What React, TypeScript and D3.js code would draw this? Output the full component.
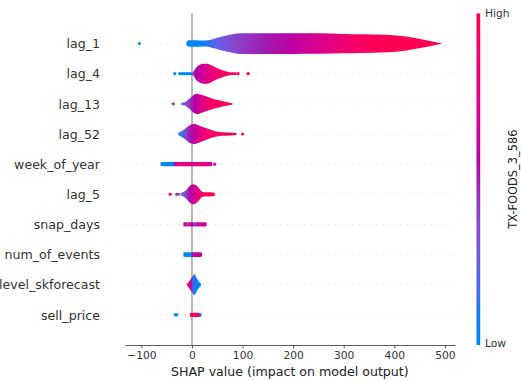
import { useRef, useEffect } from "react";
import * as d3 from "d3";

// features, top to bottom like in the plot
const featureNames = [
  "lag_1",
  "lag_4",
  "lag_13",
  "lag_52",
  "week_of_year",
  "lag_5",
  "snap_days",
  "num_of_events",
  "level_skforecast",
  "sell_price",
];

// violin outline per feature: [shap value, half width (row units), feature value 0..1]
const lag1Violin = [
  [-11, 0.05, 0], [-8, 0.1, 0], [0, 0.11, 0], [15, 0.105, 0.03], [26, 0.1, 0.1],
  [52, 0.2, 0.25], [75, 0.29, 0.33], [95, 0.345, 0.4], [150, 0.345, 0.5],
  [200, 0.345, 0.6], [250, 0.34, 0.72], [300, 0.32, 0.85], [335, 0.31, 0.93],
  [385, 0.29, 1], [424, 0.23, 1], [451, 0.15, 1], [475, 0.07, 1], [493, 0.01, 1],
];
const lag4Violin = [
  [0, 0.02, 0.35], [3, 0.08, 0.45], [8, 0.2, 0.55], [15, 0.29, 0.62], [22, 0.33, 0.67],
  [30, 0.33, 0.74], [38, 0.28, 0.8], [46, 0.21, 0.86], [55, 0.15, 0.9], [65, 0.09, 0.95],
  [75, 0.05, 0.95], [82, 0.02, 0.95],
];
const lag13Violin = [
  [-17, 0.02, 0.3], [-10, 0.1, 0.35], [-3, 0.2, 0.45], [4, 0.3, 0.55], [10, 0.335, 0.62],
  [18, 0.3, 0.72], [29, 0.24, 0.85], [42, 0.16, 0.92], [55, 0.11, 0.97], [65, 0.07, 1],
  [75, 0.04, 1], [80, 0.02, 1],
];
const lag52Violin = [
  [-27, 0.04, 0], [-20, 0.1, 0.15], [-12, 0.2, 0.35], [-4, 0.3, 0.5], [4, 0.335, 0.6],
  [12, 0.3, 0.7], [20, 0.24, 0.8], [29, 0.19, 0.88], [40, 0.12, 0.92], [49, 0.08, 0.95],
  [60, 0.06, 0.9], [75, 0.05, 0.95], [88, 0.03, 0.9],
];
const weekOfYearViolin = [
  [-62, 0.06, 0], [-45, 0.07, 0], [-38, 0.07, 0.05], [-33, 0.07, 0.6], [-25, 0.07, 0.9],
  [-15, 0.07, 0.75], [-5, 0.07, 0.85], [5, 0.07, 0.7], [15, 0.07, 0.9], [25, 0.07, 0.8],
  [35, 0.07, 0.75], [40, 0.06, 0.7],
];
const lag5Violin = [
  [-22, 0.03, 0.3], [-16, 0.08, 0.3], [-10, 0.17, 0.4], [-4, 0.28, 0.55], [2, 0.335, 0.65],
  [8, 0.3, 0.72], [14, 0.2, 0.8], [19, 0.1, 0.9], [24, 0.07, 0.95], [35, 0.07, 1],
  [45, 0.05, 1],
];
const snapDaysViolin = [
  [-17, 0.06, 0.7], [-12, 0.07, 0.8], [-8, 0.07, 0.3], [-4, 0.07, 0.75], [2, 0.07, 0.6],
  [6, 0.07, 0.2], [10, 0.07, 0.7], [16, 0.07, 0.8], [22, 0.07, 0.65], [29, 0.06, 0.7],
];
const numEventsViolin = [
  [-17, 0.07, 0], [-8, 0.08, 0], [-2, 0.08, 0.1], [2, 0.08, 0.55], [10, 0.08, 0.65],
  [16, 0.08, 0.65], [20, 0.06, 0.6],
];
const levelViolin = [
  [-10, 0.03, 1], [-6, 0.1, 0.85], [-2, 0.2, 0.55], [2, 0.3, 0.25], [4, 0.345, 0.1],
  [7, 0.3, 0.02], [10, 0.2, 0], [14, 0.1, 0], [18, 0.03, 0],
];
const sellPriceViolin = [
  [-4, 0.06, 1], [2, 0.07, 0.95], [8, 0.07, 1], [13, 0.07, 0.9], [16, 0.06, 0.1], [19, 0.05, 0],
];

// loose points outside the violins: [shap value, feature value]
const lag1Dots = [[-104, 0]];
const lag4Dots = [
  [-34, 0], [-24, 0], [-19, 0], [-15, 0], [-10, 0], [-6, 0], [-2, 0],
  [80, 0.95], [85, 0.9], [91, 1], [111, 1],
];
const lag13Dots = [[-37, 0.45], [-18, 0.3]];
const lag52Dots = [[100, 0.95]];
const weekOfYearDots = [[45, 0.7]];
const lag5Dots = [[-43, 1], [-30, 0.95], [-26, 0.15]];
const sellPriceDots = [[-33, 0], [-30, 0]];

const xTicks = [-100, 0, 100, 200, 300, 400, 500];

const violins = [
  lag1Violin, lag4Violin, lag13Violin, lag52Violin, weekOfYearViolin,
  lag5Violin, snapDaysViolin, numEventsViolin, levelViolin, sellPriceViolin,
];
const dots = [lag1Dots, lag4Dots, lag13Dots, lag52Dots, weekOfYearDots, lag5Dots, [], [], [], sellPriceDots];

// shap red_blue map, done in LCH like the python lib
const redBlue = (t: number) => {
  t = Math.max(0, Math.min(1, t));
  const l = t < 0.5 ? 54 - 28 * t : 40 + 28 * (t - 0.5);
  const c = 70 + 20 * t;
  const h = 267 + (380.3 - 267) * t;
  return d3.hcl(h, c, l).formatHex();
};

const App = () => {
  const svgRef = useRef<SVGSVGElement>(null);

  useEffect(() => {
    const width = 521;
    const height = 382;
    const left = 124.7;
    const right = 455;
    const top = 13.4;
    const bottom = 345;
    const font = "DejaVu Sans, sans-serif";

    const svg = d3.select(svgRef.current).attr("width", width).attr("height", height);
    svg.selectAll("*").remove();

    const x = d3.scaleLinear().domain([-133, 520]).range([left, right]);
    const y = d3.scaleLinear().domain([-1, featureNames.length]).range([bottom, top]);
    const rowH = y(0) - y(1);
    const rowY = (k: number) => y(featureNames.length - 1 - k);

    const defs = svg.append("defs");

    // grid lines for each row
    svg
      .append("g")
      .selectAll("line")
      .data(featureNames)
      .join("line")
      .attr("x1", left)
      .attr("x2", right)
      .attr("y1", (_, k) => rowY(k))
      .attr("y2", (_, k) => rowY(k))
      .attr("stroke", "#cccccc")
      .attr("stroke-width", 0.7)
      .attr("stroke-dasharray", "1 5");

    // zero line
    svg
      .append("line")
      .attr("x1", x(0))
      .attr("x2", x(0))
      .attr("y1", top)
      .attr("y2", bottom)
      .attr("stroke", "#999999")
      .attr("stroke-width", 1.4);

    // loose dots
    dots.forEach((pts, k) => {
      svg
        .append("g")
        .selectAll("circle")
        .data(pts)
        .join("circle")
        .attr("cx", (d) => x(d[0]))
        .attr("cy", rowY(k))
        .attr("r", 1.6)
        .attr("fill", (d) => redBlue(d[1]));
    });

    // violins, coloured along x by the feature value
    violins.forEach((v, k) => {
      const yc = rowY(k);
      const x0 = x(v[0][0]);
      const x1 = x(v[v.length - 1][0]);
      const grad = defs
        .append("linearGradient")
        .attr("id", `vg-${k}`)
        .attr("gradientUnits", "userSpaceOnUse")
        .attr("x1", x0)
        .attr("x2", x1)
        .attr("y1", 0)
        .attr("y2", 0);
      grad
        .selectAll("stop")
        .data(v)
        .join("stop")
        .attr("offset", (d) => (x(d[0]) - x0) / (x1 - x0))
        .attr("stop-color", (d) => redBlue(d[2]));

      const area = d3
        .area<number[]>()
        .x((d) => x(d[0]))
        .y0((d) => yc - d[1] * rowH)
        .y1((d) => yc + d[1] * rowH)
        .curve(d3.curveMonotoneX);

      svg.append("path").attr("d", area(v)).attr("fill", `url(#vg-${k})`);
    });

    // feature names
    svg
      .append("g")
      .selectAll("text")
      .data(featureNames)
      .join("text")
      .attr("x", 100)
      .attr("y", (_, k) => rowY(k))
      .attr("dy", "0.38em")
      .attr("text-anchor", "end")
      .attr("font-family", font)
      .attr("font-size", 12.6)
      .attr("fill", "#333333")
      .text((d) => d);

    // x axis
    const axis = svg
      .append("g")
      .attr("transform", `translate(0,${bottom})`)
      .call(
        d3
          .axisBottom(x)
          .tickValues(xTicks)
          .tickSizeInner(3.4)
          .tickSizeOuter(0)
          .tickPadding(3.4)
          .tickFormat((d) => (+d < 0 ? "\u2212" + Math.abs(+d) : String(d)))
      );
    axis.select(".domain").attr("stroke", "#333333").attr("stroke-width", 0.8);
    axis.selectAll(".tick line").attr("stroke", "#333333").attr("stroke-width", 0.8);
    axis
      .selectAll(".tick text")
      .attr("fill", "#333333")
      .attr("font-family", font)
      .attr("font-size", 10.7);

    svg
      .append("text")
      .attr("x", (left + right) / 2)
      .attr("y", 375.8)
      .attr("text-anchor", "middle")
      .attr("font-family", font)
      .attr("font-size", 12.6)
      .attr("fill", "#222")
      .text("SHAP value (impact on model output)");

    // colour bar
    const cb = defs
      .append("linearGradient")
      .attr("id", "cbar")
      .attr("x1", 0)
      .attr("x2", 0)
      .attr("y1", 1)
      .attr("y2", 0);
    cb.selectAll("stop")
      .data(d3.range(0, 1.0001, 0.05))
      .join("stop")
      .attr("offset", (d) => d)
      .attr("stop-color", (d) => redBlue(d));

    svg
      .append("rect")
      .attr("x", 476.5)
      .attr("y", top)
      .attr("width", 3.7)
      .attr("height", bottom - top)
      .attr("fill", "url(#cbar)");

    svg
      .append("g")
      .selectAll("text")
      .data([
        ["High", top],
        ["Low", bottom - 1.5],
      ])
      .join("text")
      .attr("x", 485)
      .attr("y", (d) => +d[1])
      .attr("dy", "0.35em")
      .attr("font-family", font)
      .attr("font-size", 10.7)
      .attr("fill", "#333333")
      .text((d) => d[0] as string);

    svg
      .append("text")
      .attr("transform", `translate(516.5,${(top + bottom) / 2}) rotate(-90)`)
      .attr("text-anchor", "middle")
      .attr("font-family", font)
      .attr("font-size", 11.4)
      .attr("fill", "#222")
      .text("TX-FOODS_3_586");

    return () => {
      svg.selectAll("*").remove();
    };
  }, []);

  return (
    <svg
      ref={svgRef}
      style={{ position: "absolute", left: 0, top: 0, background: "#fff" }}
    ></svg>
  );
};

export default App;
